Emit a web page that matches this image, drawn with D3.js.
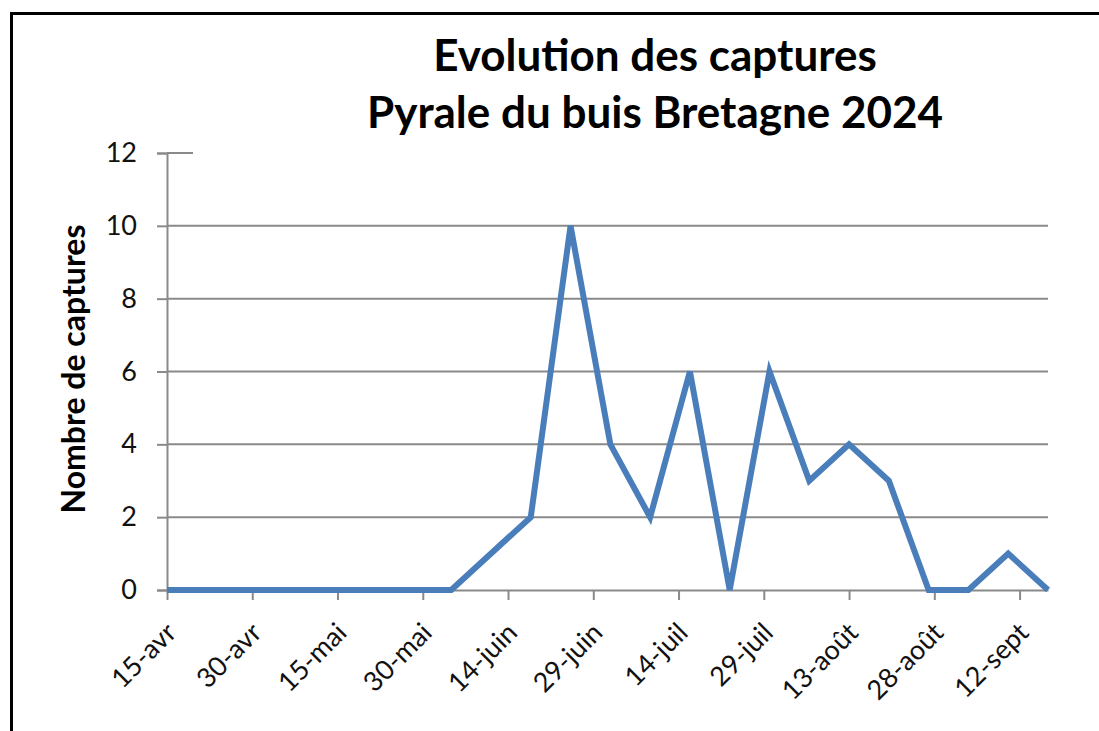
<!DOCTYPE html>
<html>
<head>
<meta charset="utf-8">
<script src="https://cdn.jsdelivr.net/npm/d3@7"></script>
<style>
  body { margin: 0; background: #fff; }
  svg { display: block; }
</style>
</head>
<body>
<div id="chart-container"></div>
<script>
// data (weekly trap counts)
const dates = [
  "2024-04-15", "2024-04-23", "2024-04-30", "2024-05-07", "2024-05-14",
  "2024-05-21", "2024-05-28", "2024-06-04", "2024-06-18", "2024-06-25",
  "2024-07-02", "2024-07-09", "2024-07-16", "2024-07-23", "2024-07-30",
  "2024-08-06", "2024-08-13", "2024-08-20", "2024-08-27", "2024-09-03",
  "2024-09-10", "2024-09-17"
];
const captures = [0, 0, 0, 0, 0, 0, 0, 0, 2, 10, 4, 2, 6, 0, 6, 3, 4, 3, 0, 0, 1, 0];

const tickDates = [
  "2024-04-15", "2024-04-30", "2024-05-15", "2024-05-30", "2024-06-14",
  "2024-06-29", "2024-07-14", "2024-07-29", "2024-08-13", "2024-08-28",
  "2024-09-12"
];
const tickLabels = [
  "15-avr", "30-avr", "15-mai", "30-mai", "14-juin", "29-juin",
  "14-juil", "29-juil", "13-août", "28-août", "12-sept"
];
const yTicks = [0, 2, 4, 6, 8, 10, 12];
const titleLines = ["Evolution des captures", "Pyrale du buis Bretagne 2024"];
const yTitle = "Nombre de captures";

const W = 1099, H = 731;
const plot = { left: 167, right: 1048, top: 153, bottom: 590 };
const gridColor = "#8a8a8a";
const font = "Lato, 'Open Sans', sans-serif";

const parseDate = d3.timeParse("%Y-%m-%d");
const data = dates.map((d, i) => ({ date: parseDate(d), value: captures[i] }));

const svg = d3.select("#chart-container")
  .append("svg")
  .attr("width", W)
  .attr("height", H)
  .style("font-family", font);

// outer frame
svg.append("rect")
  .attr("x", 11.5).attr("y", 13.5)
  .attr("width", W + 20).attr("height", H + 20)
  .attr("fill", "#fff")
  .attr("stroke", "#000")
  .attr("stroke-width", 3);

const xScale = d3.scaleTime()
  .domain([parseDate("2024-04-15"), parseDate("2024-09-17")])
  .range([plot.left, plot.right]);

const yScale = d3.scaleLinear()
  .domain([0, 12])
  .range([plot.bottom, plot.top]);

// horizontal gridlines (the 12 line is only a short stub in the original)
svg.append("g")
  .selectAll("line")
  .data(yTicks.filter((d) => d > 0))
  .join("line")
  .attr("x1", plot.left)
  .attr("x2", (d) => (d === 12 ? plot.left + 26 : plot.right))
  .attr("y1", (d) => yScale(d))
  .attr("y2", (d) => yScale(d))
  .attr("stroke", gridColor)
  .attr("stroke-width", 2);

// y axis
const yAxis = d3.axisLeft(yScale)
  .tickValues(yTicks)
  .tickSize(10)
  .tickPadding(20)
  .tickFormat(d3.format("d"));

svg.append("g")
  .attr("class", "y-axis")
  .attr("transform", `translate(${plot.left}, 0)`)
  .call(yAxis)
  .attr("font-family", font)
  .attr("font-size", 27)
  .call((g) => g.select(".domain").attr("stroke", gridColor).attr("stroke-width", 2))
  .call((g) => g.selectAll(".tick line").attr("stroke", gridColor).attr("stroke-width", 2))
  .call((g) => g.selectAll(".tick text").attr("fill", "#111"));

// x axis
const xAxis = d3.axisBottom(xScale)
  .tickValues(tickDates.map(parseDate))
  .tickSize(10)
  .tickSizeOuter(0)
  .tickFormat((d, i) => tickLabels[i]);

svg.append("g")
  .attr("class", "x-axis")
  .attr("transform", `translate(0, ${plot.bottom})`)
  .call(xAxis)
  .attr("font-family", font)
  .attr("font-size", 27)
  .call((g) => g.select(".domain").attr("stroke", gridColor).attr("stroke-width", 2))
  .call((g) => g.selectAll(".tick line").attr("stroke", gridColor).attr("stroke-width", 2))
  .call((g) => g.selectAll(".tick text")
    .attr("fill", "#111")
    .attr("text-anchor", "end")
    .attr("y", 0)
    .attr("dy", "0.7em")
    .attr("transform", "translate(-3, 31) rotate(-45)"));

// the series line
const line = d3.line()
  .x((d) => xScale(d.date))
  .y((d) => yScale(d.value));

svg.append("path")
  .datum(data)
  .attr("fill", "none")
  .attr("stroke", "#4a7ebb")
  .attr("stroke-width", 6)
  .attr("stroke-linejoin", "miter")
  .attr("d", line);

// titles
svg.append("g")
  .selectAll("text")
  .data(titleLines)
  .join("text")
  .attr("x", 655)
  .attr("y", (d, i) => 71 + i * 57)
  .attr("text-anchor", "middle")
  .style("font-size", "44px")
  .style("font-weight", "bold")
  .attr("fill", "#000")
  .text((d) => d);

svg.append("text")
  .attr("transform", "translate(85, 369) rotate(-90)")
  .attr("text-anchor", "middle")
  .style("font-size", "32px")
  .style("font-weight", "bold")
  .attr("fill", "#000")
  .text(yTitle);
</script>
</body>
</html>
